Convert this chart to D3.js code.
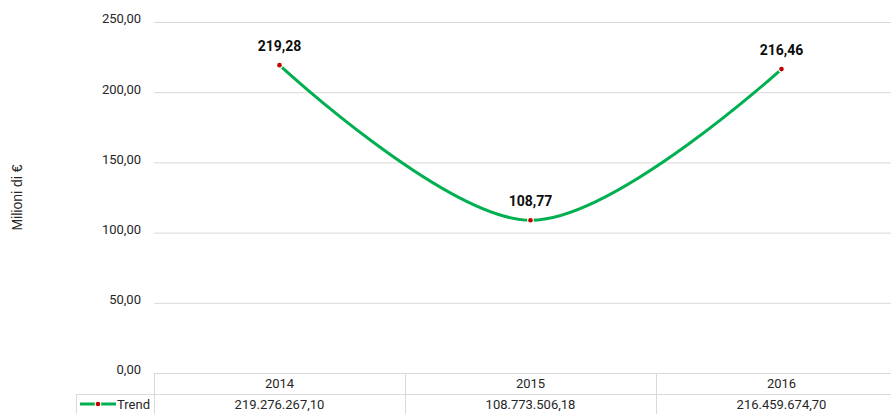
<!DOCTYPE html>
<html>
<head>
<meta charset="utf-8">
<script src="https://cdn.jsdelivr.net/npm/d3@7"></script>
<style>
  html, body { margin: 0; padding: 0; background: #fff; }
  svg { display: block; font-family: "Roboto", "DejaVu Sans Condensed", sans-serif; }
</style>
</head>
<body>
<svg id="chart" width="891" height="414"></svg>
<script>
// Annual trend, millions of euro
const years = ["2014", "2015", "2016"];
const values = [219.276267, 108.773506, 216.459675];
const pointLabels = ["219,28", "108,77", "216,46"];
const tableValues = ["219.276.267,10", "108.773.506,18", "216.459.674,70"];
const yTicks = [0, 50, 100, 150, 200, 250];
const seriesName = "Trend";
const axisTitle = "Milioni di €";

const svg = d3.select("#chart");
const plotLeft = 154, bandW = 251, plotTop = 22, plotBottom = 373;
const gridColor = "#d9d9d9";
const lineColor = "#00b050";
const markColor = "#c00000";

const x = d3.scaleBand().domain(years).range([plotLeft, plotLeft + bandW * years.length]).paddingInner(0).paddingOuter(0);
const y = d3.scaleLinear().domain([0, 250]).range([plotBottom, plotTop]);
const fmt = d => d.toFixed(2).replace(".", ",");

// gridlines
svg.append("g").selectAll("line").data(yTicks).join("line")
  .attr("x1", plotLeft).attr("x2", 891)
  .attr("y1", d => y(d) + 0.5).attr("y2", d => y(d) + 0.5)
  .attr("stroke", gridColor).attr("stroke-width", 1);

// y tick labels
svg.append("g").selectAll("text").data(yTicks).join("text")
  .attr("x", 141).attr("y", d => y(d))
  .attr("dy", "0.1em")
  .attr("text-anchor", "end")
  .attr("font-size", 13).attr("fill", "#262626")
  .text(fmt);

// axis title
svg.append("text")
  .attr("transform", `translate(22,${(plotTop + plotBottom) / 2}) rotate(-90)`)
  .attr("text-anchor", "middle")
  .attr("font-family", "'Liberation Sans', Arial, sans-serif")
  .attr("font-size", 14).attr("fill", "#262626")
  .text(axisTitle);

// data table below the plot
const rowH = 21;
const tbl = svg.append("g").attr("stroke", gridColor).attr("stroke-width", 1).attr("fill", "none");
tbl.append("line").attr("x1", 76).attr("x2", 891).attr("y1", plotBottom + rowH + 0.5).attr("y2", plotBottom + rowH + 0.5);
tbl.append("line").attr("x1", 76.5).attr("x2", 76.5).attr("y1", plotBottom + rowH).attr("y2", 414);
tbl.selectAll("line.v").data([plotLeft, ...years.slice(1).map(d => x(d))]).join("line")
  .attr("class", "v")
  .attr("x1", d => d + 0.5).attr("x2", d => d + 0.5)
  .attr("y1", plotBottom).attr("y2", 414);

svg.append("g").selectAll("text").data(years).join("text")
  .attr("x", d => x(d) + x.bandwidth() / 2).attr("y", plotBottom + 15)
  .attr("text-anchor", "middle").attr("font-size", 13).attr("fill", "#262626")
  .text(d => d);
svg.append("g").selectAll("text").data(tableValues).join("text")
  .attr("x", (d, i) => x(years[i]) + x.bandwidth() / 2).attr("y", plotBottom + rowH + 15)
  .attr("text-anchor", "middle").attr("font-size", 13).attr("fill", "#262626")
  .text(d => d);

// legend key in the table
const key = svg.append("g").attr("transform", `translate(80,${plotBottom + rowH + 10})`);
key.append("line").attr("x1", 0).attr("x2", 36).attr("y1", 0).attr("y2", 0)
  .attr("stroke", lineColor).attr("stroke-width", 3);
key.append("circle").attr("cx", 18).attr("cy", 0).attr("r", 2.3)
  .attr("fill", markColor).attr("stroke", "#fff").attr("stroke-width", 2).attr("paint-order", "stroke");
key.append("text").attr("x", 37).attr("y", 5).attr("font-size", 13).attr("fill", "#262626").text(seriesName);

// smoothed trend line
const pts = years.map((d, i) => [x(d) + x.bandwidth() / 2, y(values[i])]);
svg.append("path")
  .attr("d", d3.line().curve(d3.curveCardinal.tension(0))(pts))
  .attr("fill", "none").attr("stroke", lineColor).attr("stroke-width", 3)
  .attr("stroke-linecap", "round");

// markers
svg.append("g").selectAll("circle").data(pts).join("circle")
  .attr("cx", d => d[0]).attr("cy", d => d[1]).attr("r", 2.3)
  .attr("fill", markColor).attr("stroke", "#fff").attr("stroke-width", 2.2).attr("paint-order", "stroke");

// value labels
svg.append("g").selectAll("text").data(pts).join("text")
  .attr("x", d => d[0]).attr("y", d => d[1] - 14)
  .attr("text-anchor", "middle").attr("font-size", 14).attr("font-weight", "bold").attr("fill", "#0d0d0d")
  .text((d, i) => pointLabels[i]);
</script>
</body>
</html>
